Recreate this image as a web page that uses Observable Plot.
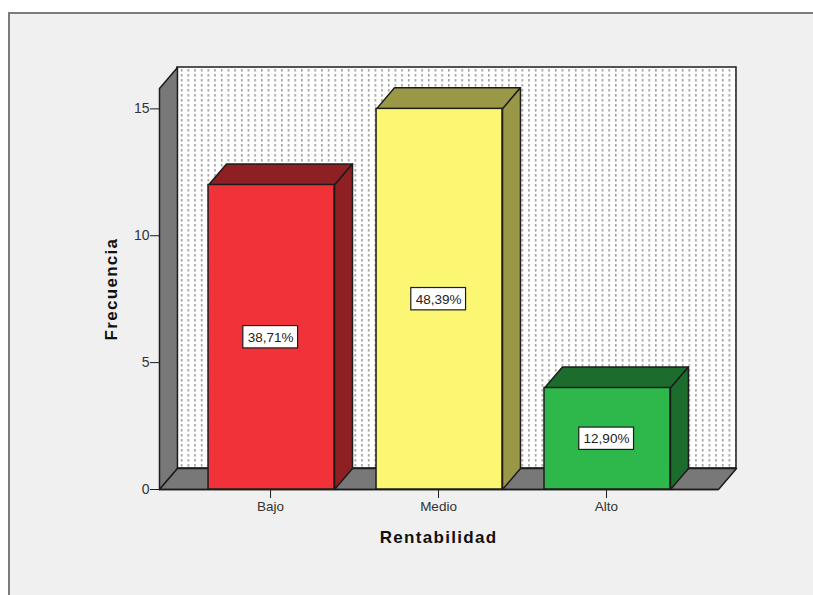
<!DOCTYPE html>
<html><head><meta charset="utf-8">
<script src="https://cdn.jsdelivr.net/npm/d3@7"></script>
<script src="https://cdn.jsdelivr.net/npm/@observablehq/plot@0.6"></script>
<style>
html,body{margin:0;padding:0;background:#fff;width:813px;height:595px;overflow:hidden}
#panel{position:absolute;left:8px;top:12px;width:805px;height:583px;box-sizing:border-box;background:#f0f0f0;border-top:2px solid #7c7c7c;border-left:2px solid #7c7c7c}
#chart{position:absolute;left:0;top:0}
</style></head><body>
<div id="panel"></div><div id="chart"></div>
<script>
const categories = ["Bajo","Medio","Alto"];
const frecuencia = [12,15,4];
const porcentajes = ["38,71%","48,39%","12,90%"];
const frontColors = ["#f23239","#fbf773","#2eb84b"];
const sideColors = ["#8e1f23","#9a9747","#1c6d2d"];
const topColors = ["#8e1f23","#9a9747","#1c6d2d"];
const wallColor = "#787878";
const ink = "#1c1c1c";

// axis extents, in category index / frequency units
const xMin = -0.667, xMax = 2.661;
const yMax = 15.8;
const depthX = 0.107, depthY = 0.83;
const halfBar = 0.375;

const idx = categories.map((_, i) => i);
const poly = (pts, key, color) => pts.map(([x, y]) => ({x, y, key, color}));
const wallPoints = [
  ...poly([[xMin,0],[xMin+depthX,depthY],[xMin+depthX,yMax+depthY],[xMin,yMax]], "left", wallColor),
  ...poly([[xMin,0],[xMax,0],[xMax+depthX,depthY],[xMin+depthX,depthY]], "floor", wallColor)
];
const barFaces = idx.flatMap(i => {
  const a = i - halfBar, b = i + halfBar, v = frecuencia[i];
  return [
    ...poly([[a,v],[b,v],[b+depthX,v+depthY],[a+depthX,v+depthY]], "top"+i, topColors[i]),
    ...poly([[b,0],[b+depthX,depthY],[b+depthX,v+depthY],[b,v]], "side"+i, sideColors[i])
  ];
});

const plot = Plot.plot({
  width: 813, height: 595,
  marginLeft: 159, marginRight: 77, marginTop: 67, marginBottom: 106,
  style: {background: "transparent", fontFamily: "'Liberation Sans', Arial, sans-serif"},
  x: {domain: [xMin, xMax + depthX], axis: null},
  y: {domain: [0, yMax + depthY], axis: null},
  marks: [
    () => {
      const s = d3.create("svg:defs");
      const p = s.append("pattern").attr("id","dots").attr("patternUnits","userSpaceOnUse")
        .attr("x",180.8).attr("y",69).attr("width",6.68).attr("height",5);
      p.append("rect").attr("width",6.68).attr("height",5).attr("fill","#fff");
      p.append("rect").attr("x",0).attr("y",0).attr("width",1.6).attr("height",2.6).attr("fill","#a0a0a0");
      return s.node();
    },
    Plot.rect([0], {x1: xMin+depthX, x2: xMax+depthX, y1: depthY, y2: yMax+depthY,
      fill: "url(#dots)", stroke: ink, strokeWidth: 1.5}),
    Plot.line(wallPoints, {x:"x", y:"y", z:"key", fill:"color", stroke: ink, strokeWidth:1.5, curve:"linear-closed"}),
    Plot.ruleY([0], {x1: xMin, x2: xMax, stroke: ink, strokeWidth: 1.5}),
    Plot.line(barFaces, {x:"x", y:"y", z:"key", fill:"color", stroke: ink, strokeWidth:1.5, curve:"linear-closed"}),
    Plot.rect(idx, {x1: i => i-halfBar, x2: i => i+halfBar, y1: 0, y2: i => frecuencia[i],
      fill: i => frontColors[i], stroke: ink, strokeWidth: 1.5}),
    Plot.rect(idx, {x1: i => i-0.168, x2: i => i+0.158, y1: i => frecuencia[i]/2-0.44, y2: i => frecuencia[i]/2+0.44,
      fill: "#fff", stroke: ink, strokeWidth: 1.2}),
    Plot.text(idx, {x: i => i, y: i => frecuencia[i]/2, dx: -1, text: i => porcentajes[i], fontSize: 13.5, fill: "#222"}),
    Plot.axisX({ticks: idx, tickFormat: i => categories[i], tickSize: 9, tickPadding: 3, fontSize: 13.5, dx: -1, color: "#333", stroke: ink, label: null, anchor: "bottom"}),
    Plot.axisY({ticks: [0,5,10,15], tickSize: 9, tickPadding: 1, fontSize: 14, label: null, anchor: "left", x: xMin, color: "#333", stroke: ink}),
    Plot.text(["Rentabilidad"], {x: 1, frameAnchor: "bottom", dy: 53, dx: -1, fontSize: 17, fontWeight: "bold", fill: "#111", className: "axis-title"}),
    Plot.text(["Frecuencia"], {y: 7.9, frameAnchor: "left", textAnchor: "middle", dx: -48, rotate: -90, fontSize: 17, fontWeight: "bold", fill: "#111", className: "axis-title"})
  ]
});
plot.querySelectorAll(".axis-title, .axis-title text").forEach(n => n.setAttribute("letter-spacing", "1.3"));
document.getElementById("chart").appendChild(plot);
</script>
</body></html>
